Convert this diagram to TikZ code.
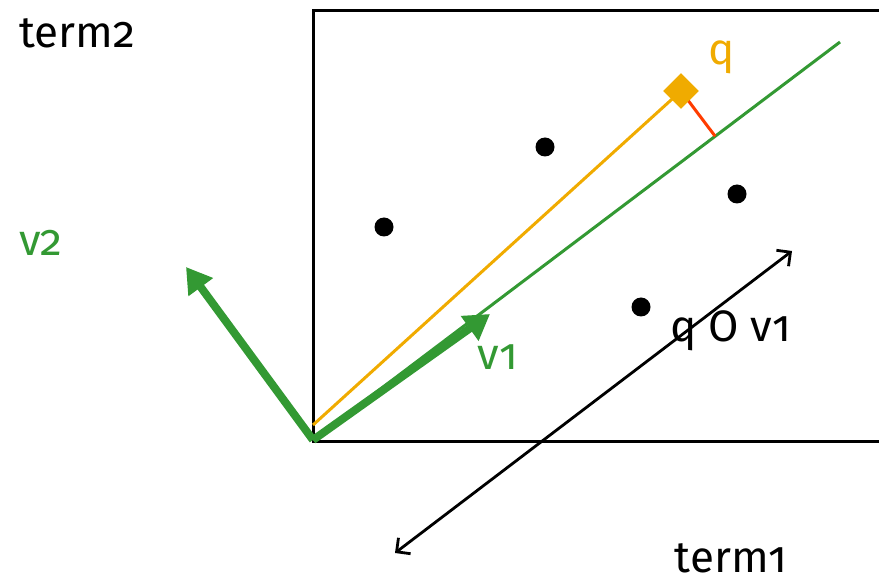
\documentclass[tikz,border=0pt]{standalone}
\usepackage{fontspec}
\setmainfont[Numbers=OldStyle]{Fira Sans}
\usetikzlibrary{arrows.meta,calc}
\definecolor{vgreen}{RGB}{51,153,51}
\definecolor{qorange}{RGB}{240,171,0}
\definecolor{perpred}{RGB}{255,60,0}
\begin{document}
\begin{tikzpicture}[x=1pt,y=-1pt,
  lbl/.style={anchor=base,inner sep=0pt,font=\fontsize{44}{52}\selectfont},
  pt/.style={circle,fill=black,inner sep=0pt,minimum size=19pt},
  vec/.style={vgreen,line width=8pt,-{Triangle[length=25pt,width=29pt]}},
  dbl/.style={black,line width=2.8pt,{Straight Barb[length=10pt,width=20pt]}-{Straight Barb[length=10pt,width=20pt]}}]
\useasboundingbox (0,0) rectangle (879,577);
% frame
\draw[line width=3pt] (885,11) -- (313,11) -- (313,442) -- (885,442);
\coordinate (O) at (313,440);
\coordinate (Oq) at (313,425);
\coordinate (E) at (840,42);
\coordinate (V2) at (186,267);
\coordinate (V1) at (490,314);
\node[qorange,fill,rectangle,rotate=45,minimum size=25pt,inner sep=0pt] (q) at (681,91) {};
\coordinate (F) at ($(O)!(q.center)!(E)$);
% lines
\draw[qorange,line width=3pt] (Oq) -- (q.center);
\draw[vgreen,line width=3pt] (O) -- (E);
\draw[vec] (O) -- (V2);
\draw[vec] (O) -- (V1);
\draw[perpred,line width=3pt] (q.center) -- (F);
\node[qorange,fill,rectangle,rotate=45,minimum size=25pt,inner sep=0pt] at (q) {};
% points
\node[pt] (p1) at (545,147) {};
\node[pt] (p2) at (384,227) {};
\node[pt] (p3) at (737,194) {};
\node[pt] (p4) at (641,307) {};
% projection axis
\coordinate (A1) at (395,553);
\coordinate (A2) at (792,251);
\draw[dbl] (A1) -- (A2);
% labels
\node[lbl] (t2) at (77,48) {term2};
\node[lbl] (t1) at (731,572) {term1};
\node[lbl,qorange] (ql) at (722,65) {q};
\node[lbl,vgreen] (v2l) at (41,256) {v2};
\node[lbl,vgreen] (v1l) at (498,370) {v1};
\node[lbl] (qov) at (731,342) {q O v1};
\end{tikzpicture}
\end{document}
